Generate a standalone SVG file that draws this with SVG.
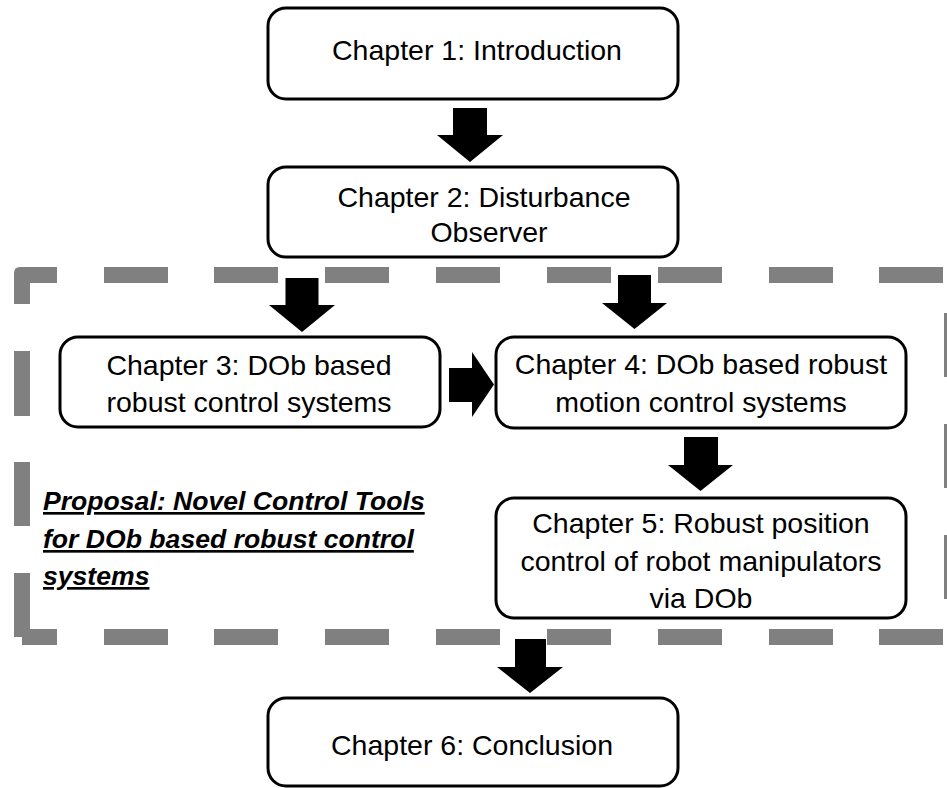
<svg xmlns="http://www.w3.org/2000/svg" width="947" height="788" viewBox="0 0 947 788">
<style>
.box{fill:#fff;stroke:#000;stroke-width:3}
.t{font-family:"Liberation Sans",Arial,sans-serif;font-size:28.5px;fill:#000;text-anchor:middle}
.p{font-family:"Liberation Sans",Arial,sans-serif;font-size:26.6px;font-weight:bold;font-style:italic;fill:#000;text-decoration:underline}
.d{fill:#808080}
.a{fill:#000}
</style>
<rect width="947" height="788" fill="#fff"/>
<g id="group-boundary">
<path class="d" d="M57,267 L20,267 Q14,267 14,273 L14,304 L30,304 L30,283 L57,283 Z"/>
<path class="d" d="M14,573 H30 V629 H57 V645 H22 V637 H14 Z"/>
<rect class="d" x="104" y="267" width="64" height="16"/>
<rect class="d" x="214" y="267" width="64" height="16"/>
<rect class="d" x="325" y="267" width="64" height="16"/>
<rect class="d" x="436" y="267" width="64" height="16"/>
<rect class="d" x="547" y="267" width="64" height="16"/>
<rect class="d" x="658" y="267" width="64" height="16"/>
<rect class="d" x="769" y="267" width="64" height="16"/>
<rect class="d" x="879" y="267" width="64" height="16"/>
<rect class="d" x="104" y="629" width="64" height="16"/>
<rect class="d" x="214" y="629" width="64" height="16"/>
<rect class="d" x="325" y="629" width="64" height="16"/>
<rect class="d" x="436" y="629" width="64" height="16"/>
<rect class="d" x="547" y="629" width="64" height="16"/>
<rect class="d" x="658" y="629" width="64" height="16"/>
<rect class="d" x="769" y="629" width="64" height="16"/>
<rect class="d" x="879" y="629" width="64" height="16"/>
<rect class="d" x="14" y="351" width="16" height="65"/>
<rect class="d" x="14" y="462" width="16" height="64"/>
<rect class="d" x="944" y="313" width="16" height="64"/>
<rect class="d" x="944" y="424" width="16" height="64"/>
<rect class="d" x="944" y="535" width="16" height="64"/>
<text class="p" x="43" y="510">Proposal: Novel Control Tools</text>
<text class="p" x="43" y="548">for DOb based robust control</text>
<text class="p" x="43" y="585">systems</text>
</g>
<g id="ch1">
<rect class="box" x="268" y="8" width="410" height="91" rx="18"/>
<text class="t" x="477" y="60">Chapter 1: Introduction</text>
</g>
<g id="ch2">
<rect class="box" x="268" y="167" width="410" height="90" rx="18"/>
<text class="t" x="484" y="207">Chapter 2: Disturbance</text>
<text class="t" x="489" y="242">Observer</text>
</g>
<g id="ch3">
<rect class="box" x="60" y="337" width="380" height="90" rx="18"/>
<text class="t" x="249" y="375">Chapter 3: DOb based</text>
<text class="t" x="249" y="412">robust control systems</text>
</g>
<g id="ch4">
<rect class="box" x="496" y="337" width="410" height="91" rx="18"/>
<text class="t" x="701" y="374">Chapter 4: DOb based robust</text>
<text class="t" x="701" y="412">motion control systems</text>
</g>
<g id="ch5">
<rect class="box" x="496" y="498" width="410" height="120" rx="18"/>
<text class="t" x="701" y="533">Chapter 5: Robust position</text>
<text class="t" x="701" y="571">control of robot manipulators</text>
<text class="t" x="701" y="608">via DOb</text>
</g>
<g id="ch6">
<rect class="box" x="268" y="698" width="410" height="88" rx="18"/>
<text class="t" x="472" y="755">Chapter 6: Conclusion</text>
</g>
<g id="connectors">
<polygon class="a" points="453,108 487,108 487,135 503,135 470,162 437,135 453,135"/>
<polygon class="a" points="285.5,278 318.5,278 318.5,305 335,305 302,332 269,305 285.5,305"/>
<polygon class="a" points="618,275 651,275 651,303 667,303 634.5,329 602,303 618,303"/>
<polygon class="a" points="449,368 472,368 472,352 494,384.5 472,417 472,402 449,402"/>
<polygon class="a" points="684,437 718,437 718,465 733,465 700.5,491 668,465 684,465"/>
<polygon class="a" points="515,639 546,639 546,667 563,667 530,693 497,667 515,667"/>
</g>
</svg>
